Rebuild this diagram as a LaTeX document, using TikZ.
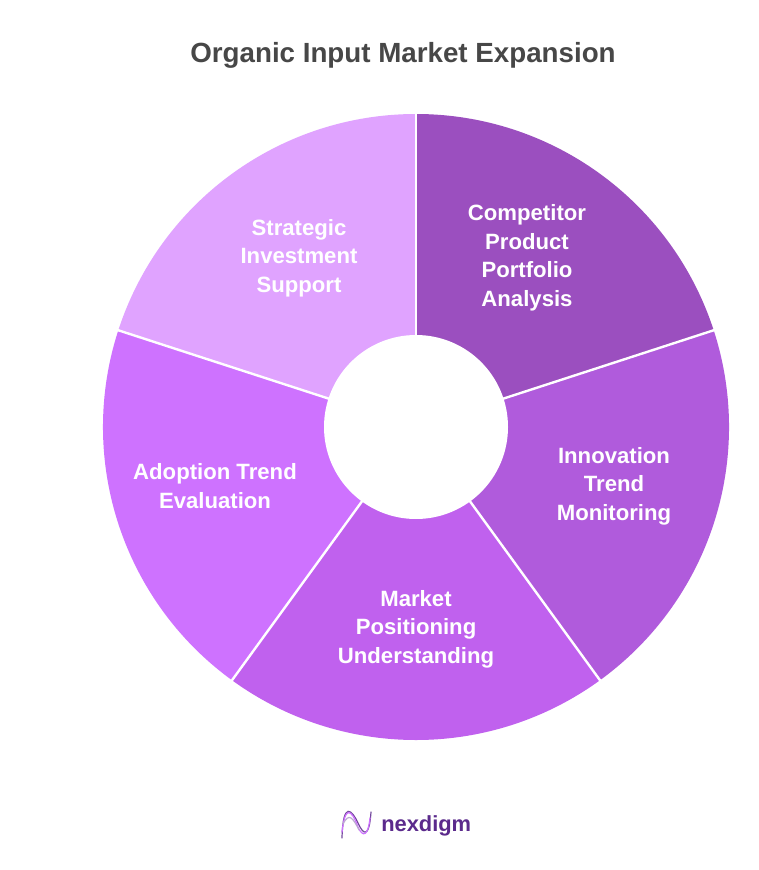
\documentclass[tikz,border=0pt]{standalone}
\usepackage{fontspec}
\setmainfont{Liberation Sans}
\definecolor{segA}{HTML}{9B4FBF}
\definecolor{segB}{HTML}{B05BDC}
\definecolor{segC}{HTML}{C061EE}
\definecolor{segD}{HTML}{CE72FF}
\definecolor{segE}{HTML}{E0A3FF}
\definecolor{titlecol}{HTML}{474747}
\definecolor{logocol}{HTML}{5B2A8C}
\tikzset{
  lab/.style={text=white,font=\bfseries\fontsize{16.6}{21.4}\selectfont,align=center,inner sep=0pt},
  logoline/.style={line width=0.9pt,line cap=round},
}
\begin{document}
\begin{tikzpicture}[x=0.75pt,y=-0.75pt]
\useasboundingbox (0,0) rectangle (759,870);
\fill[white] (0,0) rectangle (759,870);
\coordinate (c) at (416,427);
\def\ro{313}
\def\segm#1#2#3{\fill[#3] (c) -- ++(#1:\ro*0.75pt) arc[start angle=#1,end angle=#2,radius=\ro*0.75pt] -- cycle;}
\segm{18}{90}{segA}
\segm{-54}{18}{segB}
\segm{-126}{-54}{segC}
\segm{-198}{-126}{segD}
\segm{-270}{-198}{segE}
\foreach \a in {90,18,-54,-126,-198}
  \draw[white,line width=1.8pt] (c) -- ++(\a:\ro*0.75pt+1pt);
\fill[white] (c) circle[radius=92*0.75pt];
\node[text=titlecol,font=\bfseries\fontsize{20.8}{24}\selectfont,inner sep=0pt] (title) at (403,55) {Organic Input Market Expansion};
\node[lab] (a) at (527,258) {Competitor\\Product\\Portfolio\\Analysis};
\node[lab] (b) at (614,486) {Innovation\\Trend\\Monitoring};
\node[lab] (c1) at (416,629) {Market\\Positioning\\Understanding};
\node[lab] (d) at (215,486) {Adoption Trend\\Evaluation};
\node[lab] (e) at (299,258) {Strategic\\Investment\\Support};
% logo
\draw[logoline,color=logocol!85] (342,838) .. controls (343,800) and (352,810) .. (358,823) .. controls (363,834) and (369,840) .. (371,812);
\draw[logoline,color=segD] (342,832) .. controls (345,806) and (351,808) .. (358,827) .. controls (363,838) and (368,836) .. (370,818);
\draw[logoline,color=logocol!40] (343,824) .. controls (349,812) and (353,818) .. (359,830);
\node[text=logocol,font=\bfseries\fontsize{16.4}{20}\selectfont,inner sep=0pt,anchor=west] (logo) at (381,826) {nexdigm};
\end{tikzpicture}
\end{document}
